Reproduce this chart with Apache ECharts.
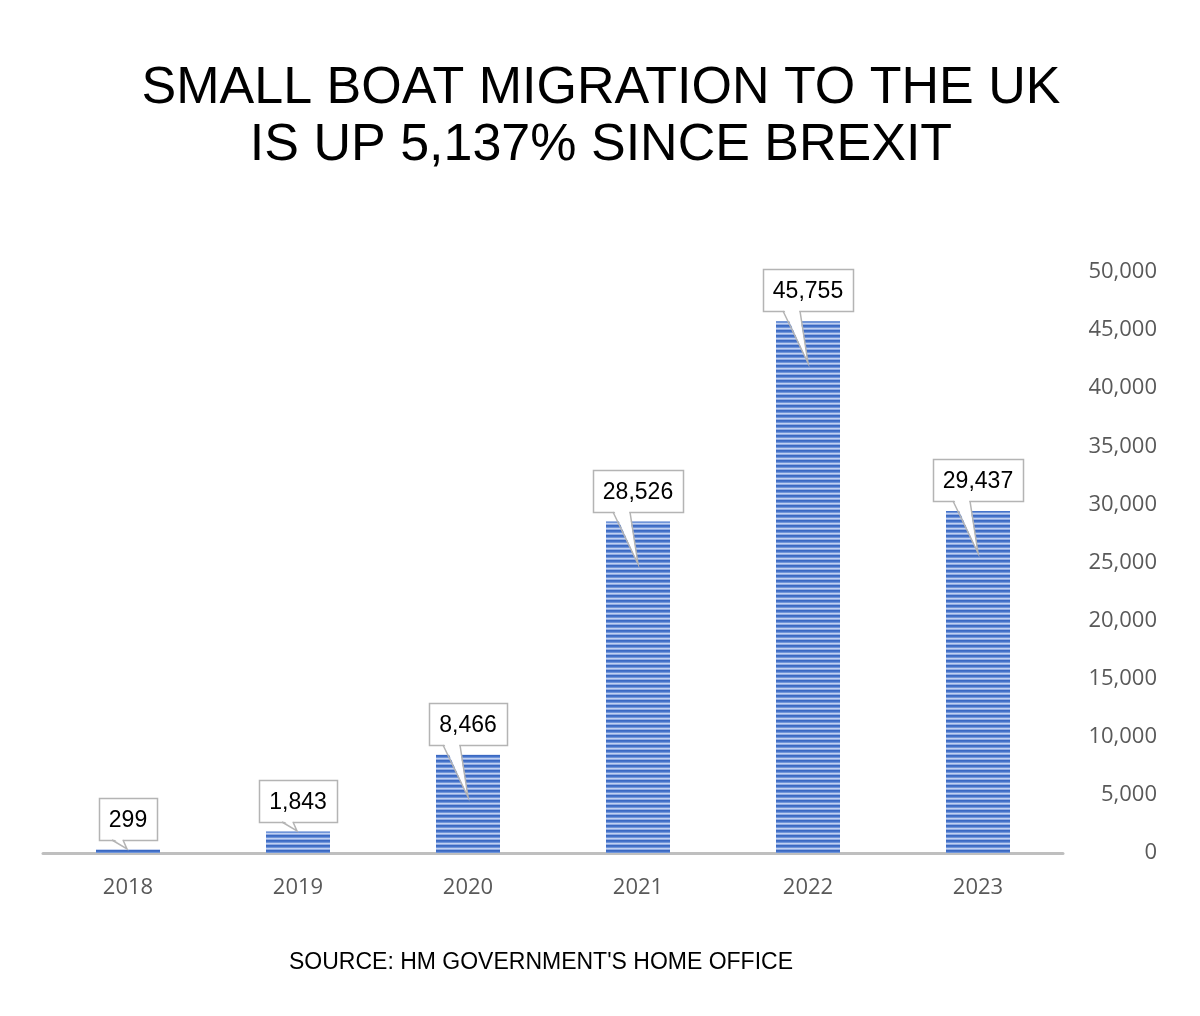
<!DOCTYPE html>
<html><head><meta charset="utf-8">
<script src="https://cdn.jsdelivr.net/npm/echarts@6/dist/echarts.min.js"></script>
<style>html,body{margin:0;padding:0;background:#fff}#c{width:1200px;height:1016px}</style>
</head><body><div id="c"></div>
<script>
const years = ['2018', '2019', '2020', '2021', '2022', '2023'];
const crossings = [299, 1843, 8466, 28526, 45755, 29437];
const titleLines = ['SMALL BOAT MIGRATION TO THE UK', 'IS UP 5,137% SINCE BREXIT'];
const sourceText = "SOURCE: HM GOVERNMENT'S HOME OFFICE";

// horizontal stripe pattern for the bars
const pat = document.createElement('canvas');
pat.width = 4; pat.height = 5;
const pctx = pat.getContext('2d');
const rows = ['#3a68c2', '#4573ca', '#7095d9', '#c0d0f1', '#90abe2'];
rows.forEach((c, i) => { pctx.fillStyle = c; pctx.fillRect(0, i, 4, 1); });

const meas = document.createElement('canvas').getContext('2d');
const calloutFont = '23px "Liberation Sans", Arial, sans-serif';
meas.font = calloutFont;
const fmt = v => Number(v).toLocaleString('en-US');

const chart = echarts.init(document.getElementById('c'), null, { renderer: 'canvas' });
chart.setOption({
  backgroundColor: '#ffffff',
  animation: false,
  grid: { left: 43, right: 137, top: 272, bottom: 163 },
  xAxis: {
    type: 'category', data: years,
    axisLine: { lineStyle: { color: '#bfbfbf', width: 3 } },
    axisTick: { show: false },
    axisLabel: { color: '#595959', fontSize: 22, fontFamily: '"Open Sans", sans-serif', margin: 24 }
  },
  yAxis: {
    type: 'value', position: 'right', min: 0, max: 50000, interval: 5000,
    axisLine: { show: false }, axisTick: { show: false }, splitLine: { show: false },
    axisLabel: { color: '#595959', fontSize: 22, fontFamily: '"Open Sans", sans-serif',
      align: 'right', margin: 94, formatter: v => fmt(v) }
  },
  graphic: [
    { type: 'text', x: 601, y: 89, style: { text: titleLines[0], fill: '#000', font: '52px "Liberation Sans", Arial, sans-serif', textAlign: 'center', textVerticalAlign: 'middle' } },
    { type: 'text', x: 601, y: 146, style: { text: titleLines[1], fill: '#000', font: '52px "Liberation Sans", Arial, sans-serif', textAlign: 'center', textVerticalAlign: 'middle' } },
    { type: 'text', x: 541, y: 963, style: { text: sourceText, fill: '#000', font: '23px "Liberation Sans", Arial, sans-serif', textAlign: 'center', textVerticalAlign: 'middle' } }
  ],
  series: [
    {
      type: 'bar', data: crossings, barWidth: 64, z: 2,
      itemStyle: { color: { image: pat, repeat: 'repeat' } }
    },
    {
      type: 'custom', z: 5,
      data: crossings.map((v, i) => [i, v]),
      renderItem: function (params, api) {
        const top = api.coord([api.value(0), api.value(1)]);
        const base = api.coord([api.value(0), 0]);
        const cx = top[0], by = top[1];
        const txt = fmt(api.value(1));
        const tw = meas.measureText(txt).width;
        const w = Math.round(tw + 20), h = 42;
        const x0 = Math.round(cx - w / 2);
        const y0 = Math.round(by - 52);
        const yb = y0 + h;
        const tall = (base[1] - by) > 60;
        const tip = tall ? [cx, yb + 52] : [cx - 1, yb + 9];
        const b1 = tall ? [cx - 25, yb] : [cx - 16, yb];
        const b2 = tall ? [cx - 8, yb] : [cx - 5, yb];
        return {
          type: 'group',
          children: [
            { type: 'rect', shape: { x: x0 + 0.5, y: y0 + 0.5, width: w, height: h },
              style: { fill: '#fff', stroke: '#b4b4b4', lineWidth: 1.5 } },
            { type: 'polygon', shape: { points: [[b1[0] + 1, yb - 1.5], [b2[0] - 1, yb - 1.5], tip] },
              style: { fill: '#fff' } },
            { type: 'polyline', shape: { points: [b1, tip, b2] },
              style: { fill: null, stroke: '#b4b4b4', lineWidth: 1.5 } },
            { type: 'text', x: cx, y: y0 + h / 2 + 2,
              style: { text: txt, font: calloutFont, fill: '#000', textAlign: 'center', textVerticalAlign: 'middle' } }
          ]
        };
      }
    }
  ]
});
</script></body></html>
